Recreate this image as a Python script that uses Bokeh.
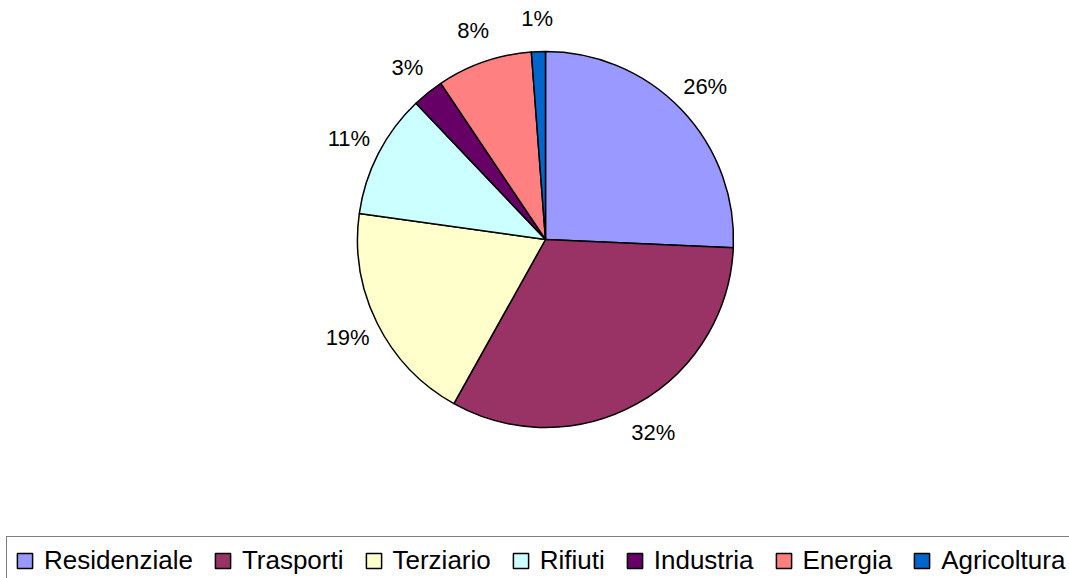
import math
from bokeh.plotting import figure
from bokeh.models import Range1d, Legend, LegendItem, ColumnDataSource
from bokeh.core.properties import value
from bokeh.embed import file_html
from bokeh.resources import INLINE

categories = ["Residenziale", "Trasporti", "Terziario", "Rifiuti", "Industria", "Energia", "Agricoltura"]
shares = [25.7, 32.4, 19.1, 10.7, 2.7, 8.2, 1.2]
labels = ["26%", "32%", "19%", "11%", "3%", "8%", "1%"]
colors = ["#9999FF", "#993366", "#FFFFCC", "#CCFFFF", "#660066", "#FF8080", "#0066CC"]

W, H = 1069, 578
p = figure(width=W, height=H, output_backend="svg", toolbar_location=None,
           x_range=Range1d(0, W), y_range=Range1d(0, H), min_border=0,
           outline_line_color=None)
p.axis.visible = False
p.grid.visible = False

cx, cy, R, RL = 545, 339, 188, 221
total = sum(shares)
starts, ends, lx, ly = [], [], [], []
cum = 0.0
for s in shares:
    a0 = cum / total
    cum += s
    a1 = cum / total
    starts.append(math.pi / 2 - 2 * math.pi * a0)
    ends.append(math.pi / 2 - 2 * math.pi * a1)
    mid = 2 * math.pi * (a0 + a1) / 2
    lx.append(cx + RL * math.sin(mid))
    ly.append(cy + RL * math.cos(mid))

src = ColumnDataSource(dict(cat=categories, start=starts, end=ends, color=colors,
                            lx=lx, ly=ly, lab=labels))
r = p.wedge(x=cx, y=cy, radius=R, start_angle="start", end_angle="end", direction="clock",
            fill_color="color", line_color="black", line_width=1.5, source=src)
p.text(x="lx", y="ly", text="lab", source=src, text_align="center", text_baseline="middle",
       text_font=value("Liberation Sans"), text_font_size="22px", text_color="black")

nan = float("nan")
items = []
for c, col in zip(categories, colors):
    g = p.quad(left=[nan], right=[nan], bottom=[nan], top=[nan], fill_color=col,
               line_color="black", line_width=1.5)
    items.append(LegendItem(label=c, renderers=[g]))

legend = Legend(items=items, orientation="horizontal", location=(6, -7),
                label_text_font="Liberation Sans", label_text_font_size="26px",
                label_text_color="black",
                glyph_width=19, glyph_height=19, label_standoff=10, spacing=20,
                padding=8, margin=0, label_height=28,
                border_line_color="black", border_line_width=1.5,
                background_fill_alpha=1.0)
p.add_layout(legend, "center")

open("out.html", "w").write(file_html(p, INLINE))
